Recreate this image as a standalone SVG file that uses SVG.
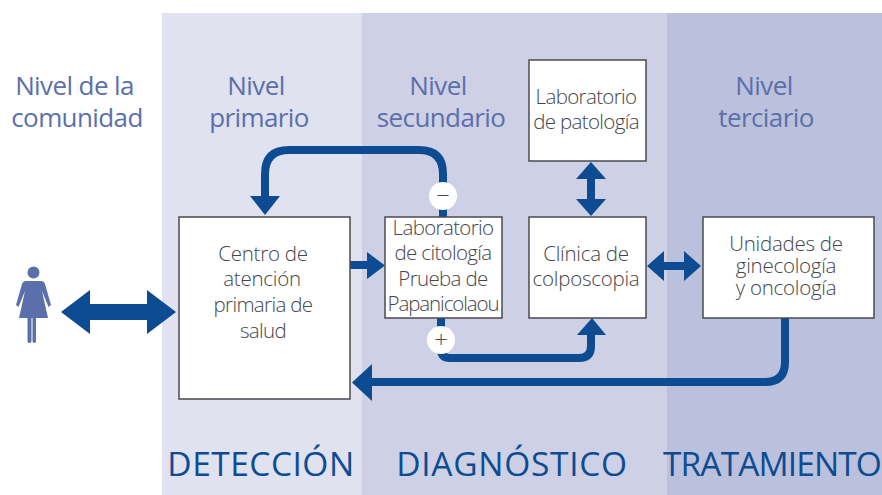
<svg xmlns="http://www.w3.org/2000/svg" width="882" height="495" viewBox="0 0 882 495">
<style>
text{font-family:"Open Sans","Noto Sans","Liberation Sans",sans-serif;text-anchor:middle}
.b{fill:#fff;stroke:#4a4a50;stroke-width:1.5}
.t{font-size:20.5px;fill:#45454b;letter-spacing:-.65px;font-weight:300}
.w{letter-spacing:-.25px}
.h{font-size:26px;fill:#5b70aa;letter-spacing:-.6px}
.c{font-size:33.5px;fill:#0d4c92}
.l{fill:none;stroke:#0d4c92;stroke-width:8}
.a{fill:#0d4c92}
.s{fill:#4a4a50;font-size:24px;font-weight:300}
</style>
<rect x="162" y="13" width="200" height="482" fill="#e0e2f0"/>
<rect x="362" y="13" width="305" height="482" fill="#ced1e5"/>
<rect x="667" y="13" width="215" height="482" fill="#bbc0dc"/>
<g id="connectors">
<path class="l" d="M443 217V174Q443 150 419 150H289Q265 150 265 174V198"/>
<path class="a" d="M250 196H280L265 215Z"/>
<path class="l" d="M350 265H368"/>
<path class="a" d="M367 252L385 265.500L367 279Z"/>
<path class="l" d="M441 318V349Q441 358 450 358H579Q591 358 591 346V332"/>
<path class="a" d="M577 335L592 318L606 335Z"/>
<path class="l" d="M785 318V362Q785 382 765 382H370"/>
<path class="a" d="M372 364V401L352 382.500Z"/>
<path class="a" d="M591 162L606 179H595V199H606L591 216L576 199H587V179H576Z"/>
<path class="a" d="M647 266L664 251V262H684V251L701 266L684 281V270H664V281Z"/>
<path class="a" d="M61 312L90 290V304H147V290L176 312L147 334V320H90V334Z"/>
</g>
<g id="woman" fill="#5b70aa">
<circle cx="33.500" cy="272.500" r="6"/>
<path d="M26 281H41Q44 281 45 284L51 305L48.500 307L42 291L48 318H36V341Q36 343 34.500 343Q32.500 343 32.500 341V318H31.500V341Q31.500 343 29.500 343Q27.500 343 27.500 341V318H19L25 291L18.500 307L16 305L22 284Q23 281 26 281Z"/>
</g>
<g id="n-comunidad"><text class="h" x="74.500" y="95">Nivel de la</text><text class="h" x="77" y="127">comunidad</text></g>
<g id="n-primario"><text class="h" x="256" y="95">Nivel</text><text class="h" x="259" y="127">primario</text></g>
<g id="n-secundario"><text class="h" x="438" y="95">Nivel</text><text class="h" x="441" y="127">secundario</text></g>
<g id="n-terciario"><text class="h" x="764" y="95">Nivel</text><text class="h" x="766" y="127">terciario</text></g>
<g id="centro"><rect class="b" x="179" y="217" width="171" height="182"/>
<text class="t w" x="263" y="261">Centro de</text><text class="t w" x="262" y="286">atención</text><text class="t" x="263" y="312">primaria de</text><text class="t" x="263" y="338">salud</text></g>
<g id="citologia"><rect class="b" x="385" y="217" width="117" height="101"/>
<text class="t" x="443" y="235">Laboratorio</text><text class="t" x="443" y="260">de citología</text><text class="t" x="443" y="286">Prueba de</text><text class="t" x="443" y="311" style="letter-spacing:-1.1px">Papanicolaou</text></g>
<g id="colposcopia"><rect class="b" x="529" y="217" width="117" height="101"/>
<text class="t w" x="586" y="261">Clínica de</text><text class="t w" x="586" y="286">colposcopia</text></g>
<g id="patologia"><rect class="b" x="529" y="60" width="117" height="101"/>
<text class="t" x="586" y="104">Laboratorio</text><text class="t" x="586" y="129">de patología</text></g>
<g id="unidades"><rect class="b" x="703" y="217" width="171" height="101"/>
<text class="t w" x="786" y="251">Unidades de</text><text class="t w" x="786" y="273">ginecología</text><text class="t w" x="786" y="295">y oncología</text></g>
<g id="menos"><circle cx="443" cy="196" r="14" fill="#fff"/><text class="s" x="443" y="204">−</text></g>
<g id="mas"><circle cx="441" cy="340" r="14" fill="#fff"/><text class="s" x="441" y="348">+</text></g>
<text class="c" x="261" y="476" style="letter-spacing:.5px">DETECCIÓN</text>
<text class="c" x="512" y="476" style="letter-spacing:.7px">DIAGNÓSTICO</text>
<text class="c" x="772" y="476" style="letter-spacing:-.9px">TRATAMIENTO</text>
</svg>
